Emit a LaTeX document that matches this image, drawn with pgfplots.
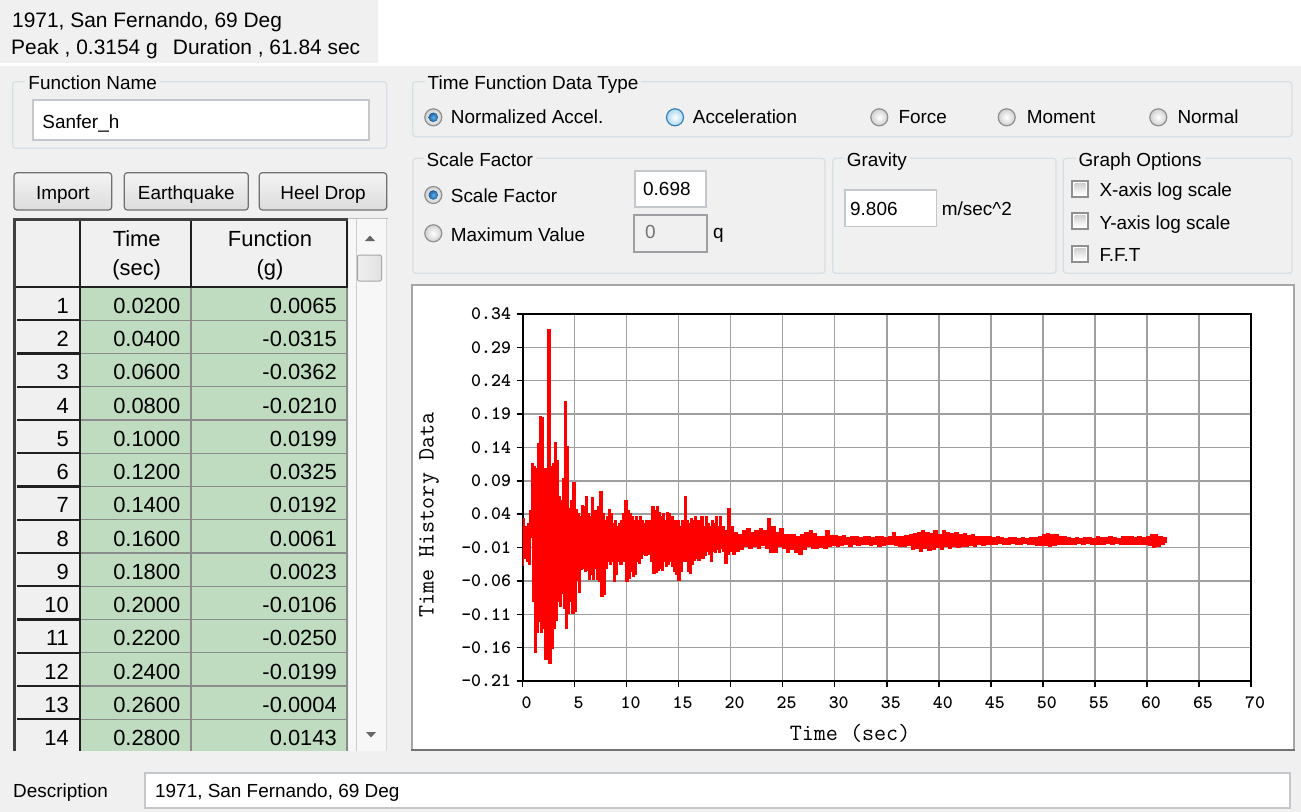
\documentclass[border=0pt]{standalone}
\usepackage{fontspec}
\setmainfont{Liberation Sans}
\usepackage{pgfplots}
\pgfplotsset{compat=1.18}
\definecolor{bg}{HTML}{F0F0F0}
\definecolor{grpb}{HTML}{D5DFE5}
\definecolor{cellg}{HTML}{C0DCC0}
\definecolor{gridg}{HTML}{A0A0A0}
\definecolor{tbb}{HTML}{C4C7CC}
\definecolor{chkb}{HTML}{8E8F8F}
\definecolor{chkt}{HTML}{D0D0D0}
\definecolor{btnt}{HTML}{F4F4F4}
\definecolor{btnb}{HTML}{DCDCDC}
\definecolor{btnd}{HTML}{707070}
\definecolor{radb}{HTML}{8E8F8F}
\definecolor{seldot}{HTML}{1D5F9A}
\definecolor{seldotc}{HTML}{5FB0EA}
\definecolor{hovb}{HTML}{3C7FB1}
\definecolor{hovi}{HTML}{A9D8F4}
\definecolor{gline}{HTML}{8C8C8C}
\definecolor{dline}{HTML}{202020}
\newcommand\gui{\fontsize{19}{22}\selectfont}
\newcommand\hdr{\fontsize{21}{24}\selectfont}
\newcommand\tbl{\fontsize{22}{24}\selectfont}
\newcommand\tickf{\fontsize{19}{20}\selectfont\ttfamily\bfseries}
\newcommand\labf{\fontsize{23.5}{25}\selectfont\ttfamily}
\newcommand\txt[3]{\node[anchor=base west,inner sep=0pt,font=\gui] at (#1,#2) {#3};}
\newcommand\grp[7]{\draw[grpb,line width=1.3bp,rounded corners=3bp] (#1,#2) rectangle (#3,#4);
 \node[anchor=base west,inner xsep=3bp,inner ysep=1bp,fill=bg,font=\gui] at (#5-3,#6) {#7};}
\newcommand\tbox[4]{\draw[fill=white,draw=tbb,line width=1.2bp] (#1,#2) rectangle (#3,#4);}
\newcommand\radio[3]{%
 \ifcase#3
  \shade[inner color=white,outer color=chkt] (#1,#2) circle (8.5);
  \draw[radb,line width=1.2bp] (#1,#2) circle (8.5);
 \or
  \shade[inner color=white,outer color=chkt] (#1,#2) circle (8.5);
  \draw[radb,line width=1.2bp] (#1,#2) circle (8.5);
  \shade[inner color=seldotc,outer color=seldot] (#1,#2) circle (4.8);
 \or
  \shade[inner color=white,outer color=hovi] (#1,#2) circle (8.5);
  \draw[hovb,line width=1.2bp] (#1,#2) circle (8.5);
 \fi}
\newcommand\chk[2]{\draw[draw=chkb,fill=white,line width=1.2bp] (#1,#2) rectangle ++(16,16);
 \shade[top color=chkt,bottom color=white] (#1+2.5,#2+2.5) rectangle ++(11,11);}
\newcommand\btn[5]{\shadedraw[rounded corners=3bp,top color=btnt,bottom color=btnb,draw=btnd,line width=1.2bp] (#1,#2) rectangle (#3,#4);
 \node[font=\gui,anchor=base,inner sep=0pt] at ({(#1+#3)/2},199.5) {#5};}
\begin{document}
\begin{tikzpicture}
\useasboundingbox (0,0) rectangle (1301bp,-812bp);
\begin{scope}[x=1bp,y=-1bp]
\fill[white] (0,0) rectangle (1301,812);
\fill[bg] (0,0) rectangle (378,63);
\fill[bg] (0,66) rectangle (1301,812);
% header
\node[anchor=base west,inner sep=0pt,font=\hdr] at (12,27.3) {1971, San Fernando, 69 Deg};
\node[anchor=base west,inner sep=0pt,font=\hdr] at (11,54.3) {Peak , 0.3154 g\hspace{0.45em} Duration , 61.84 sec};
% function name
\grp{12.7}{81.7}{386.7}{148.3}{28.3}{89.3}{Function Name}
\tbox{33}{100}{369}{140}
\txt{42.3}{128.3}{Sanfer\_h}
% time function data type
\grp{412.7}{81.7}{1292}{136.7}{427.5}{89.3}{Time Function Data Type}
\radio{433.3}{117.3}{1}\txt{450.7}{123.3}{Normalized Accel.}
\radio{675}{117.3}{2}\txt{692.7}{123.3}{Acceleration}
\radio{879.3}{117.3}{0}\txt{898.3}{123.3}{Force}
\radio{1006.7}{117.3}{0}\txt{1026.7}{123.3}{Moment}
\radio{1158.3}{117.3}{0}\txt{1177.3}{123.3}{Normal}
% scale factor
\grp{413}{158.3}{825}{273.3}{426.5}{166}{Scale Factor}
\radio{433.3}{195}{1}\txt{450.7}{202.7}{Scale Factor}
\radio{433.3}{233.3}{0}\txt{450.7}{241.7}{Maximum Value}
\tbox{635}{171}{706}{207}
\txt{643}{195}{0.698}
\draw[fill=bg,draw=tbb!80!black,line width=1.2bp] (634,215) rectangle (707,252);
\node[anchor=base west,inner sep=0pt,font=\gui,text=black!55] at (645,238) {0};
\txt{713}{238}{q}
% gravity
\grp{832.7}{158.3}{1056}{273.3}{846.7}{166}{Gravity}
\tbox{845}{190}{936.7}{226.7}
\txt{850}{215}{9.806}
\txt{941.7}{215}{m/sec\textasciicircum 2}
% graph options
\grp{1063.3}{158.3}{1292}{273.3}{1078.3}{166}{Graph Options}
\chk{1072}{181}\txt{1099.3}{196.7}{X-axis log scale}
\chk{1072}{213}\txt{1099.3}{229.3}{Y-axis log scale}
\chk{1072}{246}\txt{1099.3}{261.7}{F.F.T}
% buttons
\btn{14}{172.7}{111.7}{210}{Import}
\btn{124.3}{172.7}{248.3}{210}{Earthquake}
\btn{259.3}{172.7}{386.7}{210}{Heel Drop}
% table
\begin{scope}
\clip (12,216) rectangle (390,750);
\fill[bg] (13,218) rectangle (348,752);
\fill[cellg] (81,287) rectangle (347,752);
\fill[black!3] (349,219) rectangle (387,752);
\draw[black!20,line width=1bp] (356.5,219) -- (356.5,752);
\draw[black!15,line width=1bp] (386.5,219) -- (386.5,752);
\foreach \i in {1,...,14}{
  \draw[gline,line width=1.2bp] (81,{287+33.25*\i}) -- (347,{287+33.25*\i});
  \draw[dline,line width=2.3bp] (17,{287+33.25*\i}) -- (80,{287+33.25*\i});
}
\draw[gline,line width=1.2bp] (191,287) -- (191,752);
\draw[gline,line width=1.2bp] (347,287) -- (347,752);
\draw[dline,line width=2.5bp] (80,219) -- (80,752);
\draw[dline,line width=2.3bp] (191,219) -- (191,287);
\draw[dline,line width=2.3bp] (347,219) -- (347,287);
\draw[dline,line width=2.5bp] (13,287) -- (348,287);
\draw[black!75,line width=3bp] (14.5,218) -- (14.5,752);
\draw[black!75,line width=2.5bp] (13,219.5) -- (348,219.5);
\draw[black!25,line width=1bp] (348,218.5) -- (388,218.5);
\end{scope}
\node[font=\tbl,anchor=base,inner sep=0pt] at (136.7,246.7) {Time};
\node[font=\tbl,anchor=base,inner sep=0pt] at (136.7,275) {(sec)};
\node[font=\tbl,anchor=base,inner sep=0pt] at (270,246.7) {Function};
\node[font=\tbl,anchor=base,inner sep=0pt] at (270,275) {(g)};
\foreach \i/\t/\f in {1/0.0200/0.0065,2/0.0400/-0.0315,3/0.0600/-0.0362,4/0.0800/-0.0210,5/0.1000/0.0199,6/0.1200/0.0325,7/0.1400/0.0192,8/0.1600/0.0061,9/0.1800/0.0023,10/0.2000/-0.0106,11/0.2200/-0.0250,12/0.2400/-0.0199,13/0.2600/-0.0004,14/0.2800/0.0143}{
  \node[font=\tbl,anchor=base east,inner sep=0pt] at (69,{287+33.25*(\i-1)+26.3}) {\i};
  \node[font=\tbl,anchor=base east,inner sep=0pt] at (180.5,{287+33.25*(\i-1)+26.3}) {\t};
  \node[font=\tbl,anchor=base east,inner sep=0pt] at (337,{287+33.25*(\i-1)+26.3}) {\f};
}
% scrollbar
\shadedraw[rounded corners=2bp,left color=black!6,right color=black!12,draw=black!35,line width=1bp] (357.5,255) rectangle (381.5,281);
\fill[black!60] (365,241) -- (375,241) -- (370,235.5) -- cycle;
\fill[black!60] (366,732) -- (376,732) -- (371,737.5) -- cycle;
% description
\txt{13}{797}{Description}
\tbox{145}{773}{1290}{808}
\txt{155}{797}{1971, San Fernando, 69 Deg}
% plot panel
\draw[fill=white,draw=black!35,line width=2bp] (412,284.5) rectangle (1294,750);
\draw[black!55,line width=2.5bp] (411,750) -- (1295,750);
\end{scope}
\begin{axis}[
 at={(522.5bp,-681bp)}, anchor=south west,
 scale only axis, width=728.5bp, height=367bp,
 xmin=0, xmax=70, ymin=-0.21, ymax=0.34,
 xtick={0,5,...,70}, xticklabels={0,5,10,15,20,25,30,35,40,45,50,55,60,65,70},
 ytick={-0.21,-0.16,-0.11,-0.06,-0.01,0.04,0.09,0.14,0.19,0.24,0.29,0.34},
 yticklabels={-0.21,-0.16,-0.11,-0.06,-0.01,0.04,0.09,0.14,0.19,0.24,0.29,0.34},
 tick pos=left, tick align=outside, major tick length=6bp,
 tick style={black, line width=1.5bp},
 grid=major, major grid style={color=gridg, line width=1.5bp},
 axis line style={black, line width=2bp},
 xticklabel style={font=\tickf, xshift=4bp, yshift=-6bp},
 yticklabel style={font=\tickf, xshift=-2bp},
 xlabel={Time (sec)}, ylabel={Time History Data},
 xlabel style={font=\labf, at={(axis description cs:0.4496,-0.1417)}, anchor=center},
 ylabel style={font=\labf, at={(axis description cs:-0.128,0.452)}, anchor=center},
]
\addplot[color=red, line width=2.3bp, const plot, mark=none] table {
t a
0.00 0.0000
0.02 0.0065
0.04 -0.0315
0.06 -0.0362
0.08 -0.0210
0.10 0.0199
0.12 0.0325
0.14 0.0192
0.16 0.0061
0.18 0.0023
0.20 -0.0106
0.22 -0.0250
0.24 -0.0199
0.26 -0.0004
0.28 0.0143
0.3 0.020
0.4 -0.030
0.5 0.025
0.6 -0.034
0.7 0.045
0.8 0.006
0.9 0.115
1.0 -0.090
1.1 0.110
1.2 -0.166
1.3 0.108
1.4 -0.136
1.5 0.145
1.6 -0.120
1.7 0.186
1.8 -0.136
1.9 0.184
2.0 -0.130
2.1 0.108
2.2 -0.177
2.3 0.090
2.4 -0.150
2.5 0.3154
2.6 -0.183
2.7 0.110
2.8 -0.160
2.9 0.115
3.0 -0.130
3.1 0.147
3.2 -0.118
3.3 0.120
3.4 -0.090
3.5 0.066
3.6 -0.097
3.7 0.060
3.8 -0.078
3.9 0.092
4.0 -0.100
4.1 0.208
4.2 -0.130
4.3 0.140
4.4 -0.108
4.5 0.048
4.6 -0.090
4.7 0.060
4.8 -0.108
4.9 0.086
5.0 -0.105
5.1 0.046
5.2 -0.058
5.3 0.040
5.4 -0.076
5.5 0.035
5.6 -0.042
5.7 0.052
5.8 -0.040
5.9 0.050
6.0 -0.045
6.1 0.065
6.2 -0.044
6.3 0.040
6.4 -0.057
6.5 0.035
6.6 -0.050
6.7 0.064
6.8 -0.057
6.9 0.045
7.0 -0.040
7.1 0.030
7.2 -0.057
7.3 0.050
7.4 -0.060
7.5 0.073
7.6 -0.082
7.7 0.040
7.8 -0.080
7.9 0.030
8.0 -0.040
8.1 0.035
8.2 -0.030
8.3 0.046
8.4 -0.034
8.5 0.040
8.6 -0.030
8.7 0.025
8.8 -0.060
8.9 0.030
9.0 -0.050
9.1 0.020
9.2 -0.030
9.3 0.025
9.4 -0.035
9.5 0.030
9.6 -0.025
9.7 0.040
9.8 -0.030
9.9 0.059
10.0 -0.060
10.1 0.045
10.2 -0.055
10.3 0.040
10.4 -0.045
10.5 0.035
10.6 -0.053
10.7 0.030
10.8 -0.050
10.9 0.035
11.0 -0.030
11.1 0.030
11.2 -0.033
11.3 0.036
11.4 -0.025
11.5 0.029
11.6 -0.020
11.7 0.025
11.8 -0.021
11.9 0.029
12.0 -0.018
12.1 0.025
12.2 -0.020
12.3 0.030
12.4 -0.030
12.5 0.051
12.6 -0.048
12.7 0.045
12.8 -0.046
12.9 0.050
13.0 -0.044
13.1 0.041
13.2 -0.040
13.3 0.035
13.4 -0.044
13.5 0.040
13.6 -0.030
13.7 0.030
13.8 -0.038
13.9 0.042
14.0 -0.035
14.1 0.040
14.2 -0.030
14.3 0.035
14.4 -0.038
14.5 0.030
14.6 -0.045
14.7 0.025
14.8 -0.050
14.9 0.030
15.0 -0.059
15.1 0.020
15.2 -0.045
15.3 0.030
15.4 -0.030
15.5 -0.020
15.6 0.065
15.7 -0.030
15.8 0.030
15.9 -0.045
16.0 0.025
16.1 -0.048
16.2 0.032
16.3 -0.035
16.4 0.030
16.5 -0.028
16.6 0.035
16.7 -0.025
16.8 0.030
16.9 -0.028
17.0 0.025
17.1 -0.020
17.2 0.035
17.3 -0.025
17.4 0.020
17.5 -0.021
17.6 0.035
17.7 -0.015
17.8 0.025
17.9 -0.020
18.0 0.020
18.1 -0.030
18.2 0.030
18.3 -0.015
18.4 0.025
18.5 -0.016
18.6 0.035
18.7 -0.012
18.8 0.020
18.9 -0.016
19.0 0.035
19.1 -0.010
19.2 0.020
19.3 -0.015
19.4 0.010
19.5 -0.033
19.6 0.015
19.7 -0.020
19.8 0.047
19.9 -0.015
20.0 0.020
20.2 -0.019
20.4 0.011
20.6 -0.015
20.8 0.008
21.0 -0.012
21.2 0.015
21.4 -0.008
21.6 0.018
21.8 -0.010
22.0 0.012
22.2 -0.008
22.4 0.015
22.6 -0.010
22.8 0.018
23.0 -0.006
23.2 0.014
23.4 -0.010
23.6 0.032
23.8 -0.016
24.0 0.020
24.2 -0.016
24.4 0.012
24.6 -0.008
24.8 0.018
25.0 -0.010
25.2 0.008
25.4 -0.016
25.6 0.009
25.8 -0.012
26.0 0.008
26.2 -0.016
26.4 0.006
26.6 -0.020
26.8 0.009
27.0 -0.012
27.2 0.012
27.4 -0.008
27.6 0.015
27.8 -0.010
28.0 0.010
28.2 -0.011
28.4 0.006
28.6 -0.009
28.8 0.006
29.0 -0.010
29.2 0.015
29.4 -0.008
29.6 0.007
29.8 -0.006
30.0 0.007
30.2 -0.008
30.4 0.005
30.6 -0.006
30.8 0.007
31.0 -0.005
31.2 0.004
31.4 -0.007
31.6 0.006
31.8 -0.004
32.0 0.005
32.2 -0.006
32.4 0.004
32.6 -0.005
32.8 0.006
33.0 -0.004
33.2 0.005
33.4 -0.006
33.6 0.004
33.8 -0.005
34.0 0.006
34.2 -0.007
34.4 0.005
34.6 -0.006
34.8 0.004
35.0 -0.005
35.2 0.006
35.4 -0.004
35.6 0.011
35.8 -0.006
36.0 0.005
36.2 -0.007
36.4 0.006
36.6 -0.008
36.8 0.007
37.0 -0.006
37.2 0.008
37.4 -0.012
37.6 0.010
37.8 -0.010
38.0 0.012
38.2 -0.015
38.4 0.015
38.6 -0.010
38.8 0.012
39.0 -0.013
39.2 0.010
39.4 -0.012
39.6 0.014
39.8 -0.009
40.0 0.008
40.2 -0.012
40.4 0.014
40.6 -0.008
40.8 0.012
41.0 -0.010
41.2 0.010
41.4 -0.008
41.6 0.011
41.8 -0.009
42.0 0.008
42.2 -0.007
42.4 0.010
42.6 -0.008
42.8 0.007
43.0 -0.006
43.2 0.009
43.4 -0.007
43.6 0.006
43.8 -0.005
44.0 0.006
44.2 -0.006
44.4 0.005
44.6 -0.004
44.8 0.005
45.0 -0.005
45.2 0.004
45.4 -0.004
45.6 0.005
45.8 -0.003
46.0 0.004
46.2 -0.004
46.4 0.003
46.6 -0.004
46.8 0.004
47.0 -0.003
47.2 0.004
47.4 -0.004
47.6 0.003
47.8 -0.004
48.0 0.004
48.2 -0.003
48.4 0.003
48.6 -0.004
48.8 0.004
49.0 -0.005
49.2 0.004
49.4 -0.006
49.6 0.005
49.8 -0.006
50.0 0.009
50.2 -0.006
50.4 0.010
50.6 -0.007
50.8 0.008
51.0 -0.006
51.2 0.009
51.4 -0.005
51.6 0.006
51.8 -0.004
52.0 0.005
52.2 -0.004
52.4 0.004
52.6 -0.004
52.8 0.003
53.0 -0.004
53.2 0.004
53.4 -0.003
53.6 0.003
53.8 -0.004
54.0 0.004
54.2 -0.003
54.4 0.004
54.6 -0.005
54.8 0.003
55.0 -0.004
55.2 0.005
55.4 -0.004
55.6 0.004
55.8 -0.005
56.0 0.004
56.2 -0.003
56.4 0.005
56.6 -0.004
56.8 0.004
57.0 -0.003
57.2 0.003
57.4 -0.004
57.6 0.005
57.8 -0.004
58.0 0.006
58.2 -0.004
58.4 0.005
58.6 -0.005
58.8 0.004
59.0 -0.004
59.2 0.006
59.4 -0.005
59.6 0.004
59.8 -0.005
60.0 0.005
60.2 -0.006
60.4 0.008
60.6 -0.009
60.8 0.009
61.0 -0.008
61.2 0.006
61.4 -0.004
61.6 0.004
61.8 -0.002
61.84 -0.002
};
\end{axis}
\end{tikzpicture}
\end{document}
